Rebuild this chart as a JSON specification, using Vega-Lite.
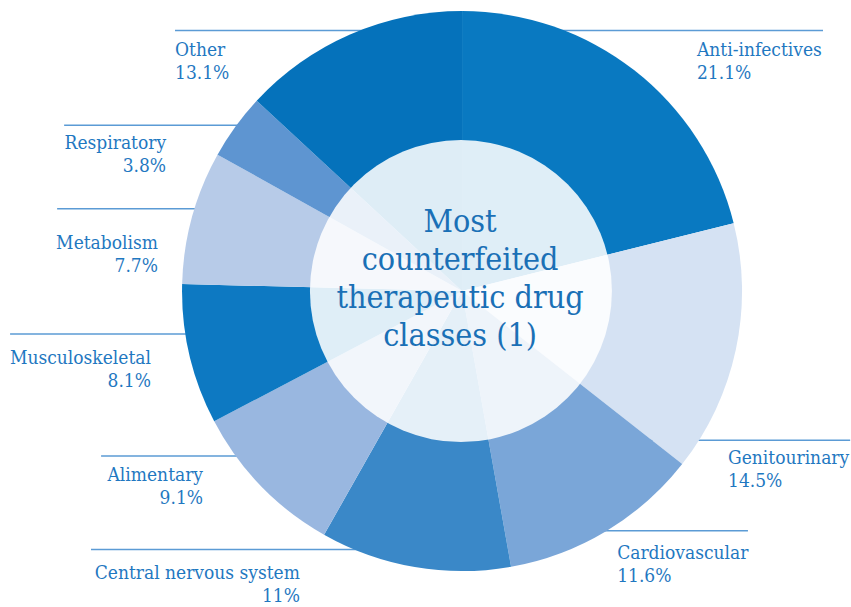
{
  "$schema": "https://vega.github.io/schema/vega-lite/v6.json",
  "width": 851,
  "height": 607,
  "autosize": {"type": "fit", "contains": "padding"},
  "padding": 0,
  "background": "white",
  "config": {"view": {"stroke": null}},
  "datasets": {
    "classes": [
      {"cls": "Anti-infectives", "share": 21.1},
      {"cls": "Genitourinary", "share": 14.5},
      {"cls": "Cardiovascular", "share": 11.6},
      {"cls": "Central nervous system", "share": 11},
      {"cls": "Alimentary", "share": 9.1},
      {"cls": "Musculoskeletal", "share": 8.1},
      {"cls": "Metabolism", "share": 7.7},
      {"cls": "Respiratory", "share": 3.8},
      {"cls": "Other", "share": 13.1}
    ],
    "annotations": [
      {"cls": "Anti-infectives", "tx": 0.839, "ty": 0.843, "lx1": 0.136, "lx2": 1.289, "ly": 0.936},
      {"cls": "Genitourinary", "tx": 0.95, "ty": -0.621, "lx1": 0.671, "lx2": 1.386, "ly": -0.536},
      {"cls": "Cardiovascular", "tx": 0.554, "ty": -0.964, "lx1": 0.35, "lx2": 1.021, "ly": -0.861},
      {"cls": "Central nervous system", "tx": -0.579, "ty": -1.036, "lx1": -1.325, "lx2": -0.15, "ly": -0.929},
      {"cls": "Alimentary", "tx": -0.925, "ty": -0.682, "lx1": -1.289, "lx2": -0.579, "ly": -0.593},
      {"cls": "Musculoskeletal", "tx": -1.111, "ty": -0.261, "lx1": -1.614, "lx2": -0.757, "ly": -0.154},
      {"cls": "Metabolism", "tx": -1.086, "ty": 0.15, "lx1": -1.446, "lx2": -0.757, "ly": 0.296},
      {"cls": "Respiratory", "tx": -1.057, "ty": 0.511, "lx1": -1.421, "lx2": -0.65, "ly": 0.596},
      {"cls": "Other", "tx": -1.025, "ty": 0.843, "lx1": -1.025, "lx2": -0.15, "ly": 0.936}
    ],
    "centre": [
      {"t": "Most\ncounterfeited\ntherapeutic drug\nclasses (1)"}
    ]
  },
  "layer": [
    {
      "data": {"name": "annotations"},
      "mark": {"type": "rule", "color": "#5b9bd5", "strokeWidth": 1.5},
      "encoding": {
        "x": {"field": "lx1", "type": "quantitative", "scale": {"domain": [-1.65, 1.389], "nice": false, "zero": false}, "axis": null},
        "x2": {"field": "lx2"},
        "y": {"field": "ly", "type": "quantitative", "scale": {"domain": [-1.121, 1.046], "nice": false, "zero": false}, "axis": null}
      }
    },
    {
      "data": {"name": "classes"},
      "transform": [{"window": [{"op": "row_number", "as": "rank"}]}],
      "mark": {"type": "arc", "outerRadius": 280, "innerRadius": 0, "stroke": null},
      "encoding": {
        "theta": {"field": "share", "type": "quantitative", "stack": true},
        "order": {"field": "rank", "type": "quantitative"},
        "color": {
          "field": "cls",
          "type": "nominal",
          "legend": null,
          "scale": {
            "domain": ["Anti-infectives", "Genitourinary", "Cardiovascular", "Central nervous system", "Alimentary", "Musculoskeletal", "Metabolism", "Respiratory", "Other"],
            "range": ["#0979c1", "#d5e2f3", "#7aa6d8", "#3a88c8", "#99b7e0", "#0d79c2", "#b7cbe8", "#5e95d1", "#0572bb"]
          }
        },
        "x": {"datum": 0, "type": "quantitative", "scale": {"domain": [-1.65, 1.389], "nice": false, "zero": false}, "axis": null},
        "y": {"datum": 0, "type": "quantitative", "scale": {"domain": [-1.121, 1.046], "nice": false, "zero": false}, "axis": null}
      }
    },
    {
      "data": {"name": "centre"},
      "mark": {"type": "arc", "theta": 0, "theta2": 6.2832, "outerRadius": 151, "innerRadius": 0, "fill": "white", "opacity": 0.87},
      "encoding": {
        "x": {"datum": -0.004, "type": "quantitative"},
        "y": {"datum": 0, "type": "quantitative"}
      }
    },
    {
      "data": {"name": "centre"},
      "mark": {"type": "text", "align": "center", "baseline": "alphabetic", "lineBreak": "\n", "lineHeight": 38, "font": "DejaVu Serif Condensed, DejaVu Serif", "fontSize": 32, "color": "#1a70b6"},
      "encoding": {
        "x": {"datum": -0.007, "type": "quantitative"},
        "y": {"datum": 0.214, "type": "quantitative"},
        "text": {"field": "t"}
      }
    },
    {
      "data": {"name": "annotations"},
      "transform": [
        {"lookup": "cls", "from": {"data": {"name": "classes"}, "key": "cls", "fields": ["share"]}},
        {"calculate": "datum.cls + '\\n' + datum.share + '%'", "as": "label"},
        {"filter": {"field": "cls", "oneOf": ["Anti-infectives", "Genitourinary", "Cardiovascular", "Other"]}}
      ],
      "mark": {"type": "text", "align": "left", "baseline": "alphabetic", "lineBreak": "\n", "lineHeight": 23, "font": "DejaVu Serif Condensed, DejaVu Serif", "fontSize": 19, "color": "#1f78c1"},
      "encoding": {
        "x": {"field": "tx", "type": "quantitative"},
        "y": {"field": "ty", "type": "quantitative"},
        "text": {"field": "label"}
      }
    },
    {
      "data": {"name": "annotations"},
      "transform": [
        {"lookup": "cls", "from": {"data": {"name": "classes"}, "key": "cls", "fields": ["share"]}},
        {"calculate": "datum.cls + '\\n' + datum.share + '%'", "as": "label"},
        {"filter": {"not": {"field": "cls", "oneOf": ["Anti-infectives", "Genitourinary", "Cardiovascular", "Other"]}}}
      ],
      "mark": {"type": "text", "align": "right", "baseline": "alphabetic", "lineBreak": "\n", "lineHeight": 23, "font": "DejaVu Serif Condensed, DejaVu Serif", "fontSize": 19, "color": "#1f78c1"},
      "encoding": {
        "x": {"field": "tx", "type": "quantitative"},
        "y": {"field": "ty", "type": "quantitative"},
        "text": {"field": "label"}
      }
    }
  ]
}
